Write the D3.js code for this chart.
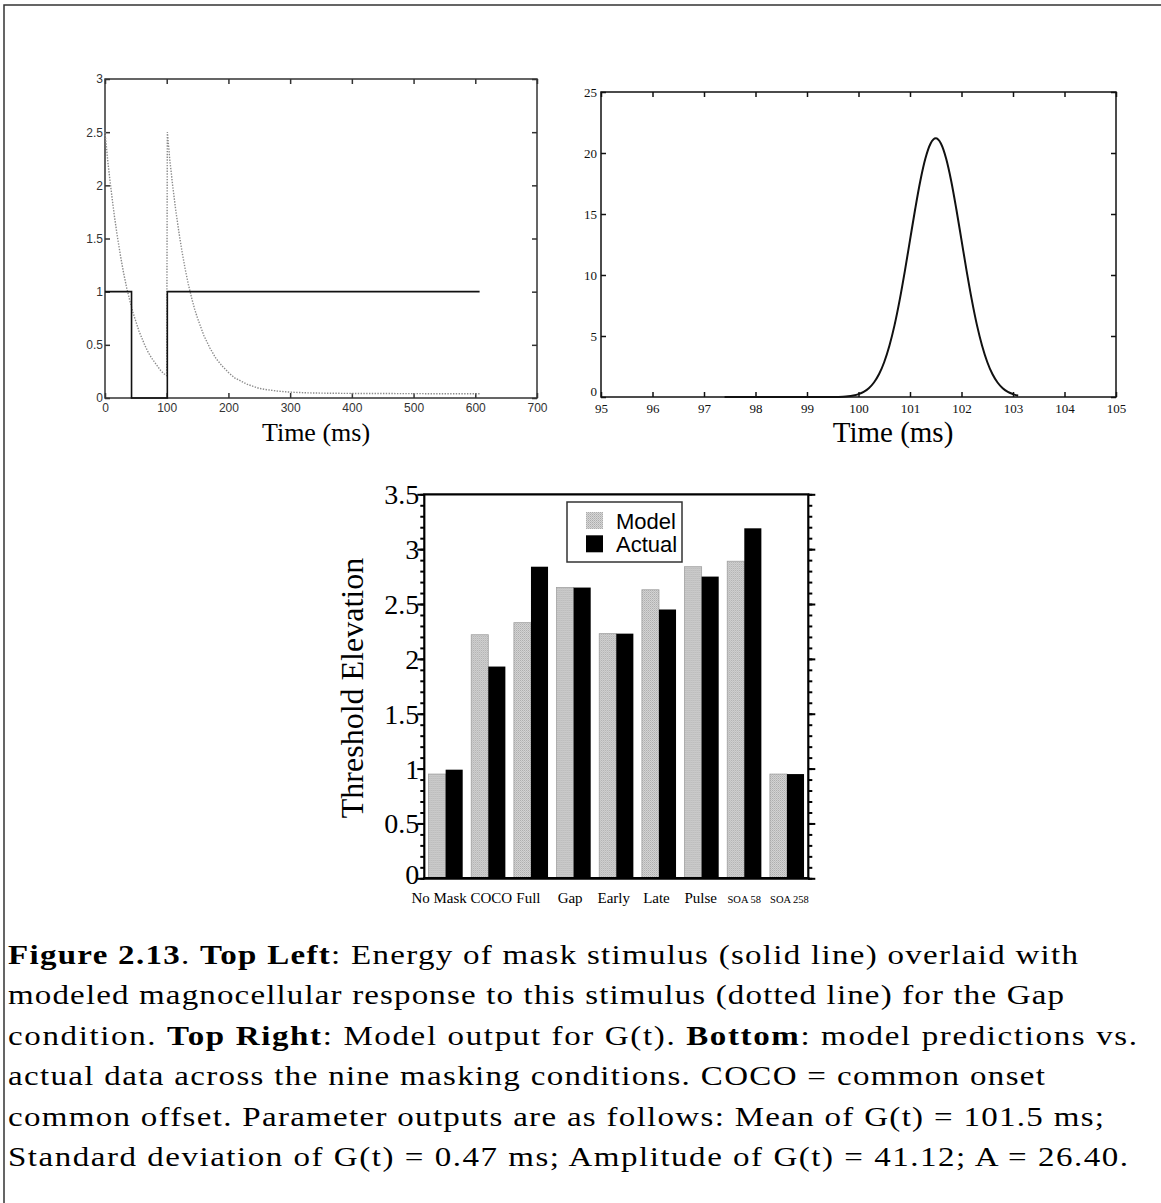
<!DOCTYPE html>
<html>
<head>
<meta charset="utf-8">
<script src="https://cdn.jsdelivr.net/npm/d3@7"></script>
<style>
  body { margin: 0; background: #fff; }
  svg { display: block; }
  .caption { font-family: "Liberation Serif", "Times New Roman", serif; font-size: 27.5px; white-space: pre; }
</style>
</head>
<body>
<div class="figure"></div>
<script>
// ---- top left: mask energy (solid) and magno response (dotted) ----
var maskTime   = [0, 43, 43, 101, 101, 607];
var maskEnergy = [1, 1, 0, 0, 1, 1];
var magnoTime = [0, 5, 10, 15, 20, 25, 30, 35, 40, 45, 50, 55, 60, 65, 70, 75, 80, 85, 90, 95, 100,
                 101, 105, 110, 115, 120, 125, 130, 135, 140, 145, 150, 160, 170, 180, 190, 200,
                 210, 220, 230, 240, 250, 260, 280, 300, 330, 360, 400, 450, 500, 550, 607];
var magnoResp = [2.5, 2.2, 1.95, 1.72, 1.52, 1.34, 1.18, 1.04, 0.92, 0.81, 0.72, 0.63, 0.56, 0.49, 0.43, 0.38, 0.34, 0.30, 0.26, 0.23, 0.21,
                 2.5, 2.24, 1.98, 1.75, 1.55, 1.37, 1.21, 1.07, 0.95, 0.84, 0.75, 0.59, 0.47, 0.37, 0.30, 0.24,
                 0.19, 0.16, 0.13, 0.11, 0.09, 0.08, 0.065, 0.055, 0.048, 0.045, 0.043, 0.042, 0.041, 0.04, 0.04];
var tlXTicks = [0, 100, 200, 300, 400, 500, 600, 700];
var tlYTicks = [0, 0.5, 1, 1.5, 2, 2.5, 3];

// ---- top right: model output G(t) ----
var gTime  = [97.4, 99.0, 99.5, 99.7, 99.8, 99.9, 100.0, 100.1, 100.2, 100.3, 100.4, 100.5, 100.6, 100.7, 100.8, 100.9,
              101.0, 101.1, 101.2, 101.3, 101.4, 101.5, 101.6, 101.7, 101.8, 101.9, 102.0, 102.1, 102.2, 102.3,
              102.4, 102.5, 102.6, 102.7, 102.8, 102.9, 103.0, 103.1];
var gValue = [0, 0, 0.01, 0.03, 0.06, 0.13, 0.24, 0.42, 0.72, 1.19, 1.88, 2.87, 4.2, 5.89, 7.96, 10.32,
              12.86, 15.39, 17.71, 19.57, 20.78, 21.2, 20.78, 19.57, 17.71, 15.39, 12.86, 10.32, 7.96, 5.89,
              4.2, 2.87, 1.88, 1.19, 0.72, 0.42, 0.24, 0.1];
var trXTicks = [95, 96, 97, 98, 99, 100, 101, 102, 103, 104, 105];
var trYTicks = [0, 5, 10, 15, 20, 25];

// ---- bottom: threshold elevation ----
var conditions   = ["No Mask", "COCO", "Full", "Gap", "Early", "Late", "Pulse", "SOA 58", "SOA 258"];
var modelValues  = [0.95, 2.22, 2.33, 2.65, 2.23, 2.63, 2.84, 2.89, 0.95];
var actualValues = [0.99, 1.93, 2.84, 2.65, 2.23, 2.45, 2.75, 3.19, 0.95];
var seriesNames  = ["Model", "Actual"];
var bYTicks = [0, 0.5, 1, 1.5, 2, 2.5, 3, 3.5];

var captionLines = [
  [["Figure 2.13", 1], [". ", 0], ["Top Left", 1], [": Energy of mask stimulus (solid line) overlaid with", 0]],
  [["modeled magnocellular response to this stimulus (dotted line) for the Gap", 0]],
  [["condition. ", 0], ["Top Right", 1], [": Model output for G(t). ", 0], ["Bottom", 1], [": model predictions vs.", 0]],
  [["actual data across the nine masking conditions. COCO = common onset", 0]],
  [["common offset. Parameter outputs are as follows: Mean of G(t) = 101.5 ms;", 0]],
  [["Standard deviation of G(t) = 0.47 ms; Amplitude of G(t) = 41.12; A = 26.40.", 0]]
];
var captionEnds = [1078, 1064, 1137, 1045, 1104, 1128];

var width = 1161, height = 1203;

var svg = d3.select(".figure")
  .append("svg")
    .attr("width", width)
    .attr("height", height);

// page frame (top and left edge)
svg.append("path")
  .attr("d", "M4," + height + "V5H" + width)
  .attr("fill", "none")
  .attr("stroke", "#333")
  .attr("stroke-width", 1.5);

// helper: boxed plot with inward ticks on all four sides
function framedAxes(g, x, y, xt, yt, font, size, color) {
  var x0 = x.range()[0], x1 = x.range()[1], y0 = y.range()[0], y1 = y.range()[1];
  g.append("rect")
    .attr("x", x0).attr("y", y1)
    .attr("width", x1 - x0).attr("height", y0 - y1)
    .attr("fill", "none").attr("stroke", color).attr("stroke-width", 1.5);

  var bottom = g.append("g").attr("transform", "translate(0," + y0 + ")")
    .call(d3.axisBottom(x).tickValues(xt).tickSize(-5).tickPadding(5).tickFormat(function(d){ return d; }));
  var top = g.append("g").attr("transform", "translate(0," + y1 + ")")
    .call(d3.axisTop(x).tickValues(xt).tickSize(-5).tickFormat(""));
  var left = g.append("g").attr("transform", "translate(" + x0 + ",0)")
    .call(d3.axisLeft(y).tickValues(yt).tickSize(-5).tickPadding(2).tickFormat(function(d){ return d; }));
  var right = g.append("g").attr("transform", "translate(" + x1 + ",0)")
    .call(d3.axisRight(y).tickValues(yt).tickSize(-5).tickFormat(""));

  [bottom, top, left, right].forEach(function(a) {
    a.select(".domain").remove();
    a.selectAll(".tick line").attr("stroke", color).attr("stroke-width", 1.5);
    a.selectAll("text")
      .attr("font-family", font)
      .attr("font-size", size)
      .attr("fill", color);
  });
  return { bottom: bottom, left: left };
}

// ================= top left =================
var tl = svg.append("g");
var xTL = d3.scaleLinear().domain([0, 700]).range([105, 537]);
var yTL = d3.scaleLinear().domain([0, 3]).range([398, 79]);
framedAxes(tl, xTL, yTL, tlXTicks, tlYTicks, "Liberation Sans, Arial, sans-serif", "12px", "#333");

tl.append("path")
  .datum(magnoTime.map(function(t, i){ return [t, magnoResp[i]]; }))
  .attr("fill", "none")
  .attr("stroke", "#8a8a8a")
  .attr("stroke-width", 1.4)
  .attr("stroke-dasharray", "1.4,1.4")
  .attr("d", d3.line().x(function(d){ return xTL(d[0]); }).y(function(d){ return yTL(d[1]); }));

tl.append("path")
  .datum(maskTime.map(function(t, i){ return [t, maskEnergy[i]]; }))
  .attr("fill", "none")
  .attr("stroke", "#111")
  .attr("stroke-width", 1.6)
  .attr("d", d3.line().x(function(d){ return xTL(d[0]); }).y(function(d){ return yTL(d[1]); }));

tl.append("text")
  .attr("x", 316).attr("y", 441)
  .attr("text-anchor", "middle")
  .attr("font-family", "Liberation Serif, Times New Roman, serif")
  .attr("font-size", "26px")
  .text("Time (ms)");

// ================= top right =================
var tr = svg.append("g");
var xTR = d3.scaleLinear().domain([95, 105]).range([601, 1116]);
var yTR = d3.scaleLinear().domain([0, 25]).range([397, 92]);
var trAx = framedAxes(tr, xTR, yTR, trXTicks, trYTicks, "Liberation Serif, Times New Roman, serif", "13px", "#111");
trAx.left.selectAll(".tick text").attr("x", -4);
trAx.left.selectAll(".tick text").filter(function(d){ return d === 0; }).attr("dy", "-0.1em");
trAx.bottom.selectAll(".tick text").attr("dy", "0.85em");

tr.append("path")
  .datum(gTime.map(function(t, i){ return [t, gValue[i]]; }))
  .attr("fill", "none")
  .attr("stroke", "#111")
  .attr("stroke-width", 2)
  .attr("d", d3.line().curve(d3.curveMonotoneX)
    .x(function(d){ return xTR(d[0]); }).y(function(d){ return yTR(d[1]); }));

tr.append("text")
  .attr("x", 893).attr("y", 442)
  .attr("text-anchor", "middle")
  .attr("font-family", "Liberation Serif, Times New Roman, serif")
  .attr("font-size", "29px")
  .text("Time (ms)");

// ================= bottom bars =================
var bt = svg.append("g");
var xB = d3.scaleBand().domain(conditions).range([424.3, 808.3]).paddingInner(0.2).paddingOuter(0.1);
var xSub = d3.scaleBand().domain(seriesNames).range([0, xB.bandwidth()]);
var yB = d3.scaleLinear().domain([0, 3.5]).range([878.3, 494.3]);

var defs = svg.append("defs");
var pat = defs.append("pattern")
  .attr("id", "hatch")
  .attr("patternUnits", "userSpaceOnUse")
  .attr("width", 2).attr("height", 2);
pat.append("rect").attr("width", 2).attr("height", 2).attr("fill", "#d6d6d6");
pat.append("rect").attr("width", 1).attr("height", 1).attr("fill", "#ababab");
pat.append("rect").attr("x", 1).attr("y", 1).attr("width", 1).attr("height", 1).attr("fill", "#bdbdbd");

var groups = bt.selectAll(".cond")
  .data(conditions)
  .enter().append("g")
    .attr("class", "cond")
    .attr("transform", function(d){ return "translate(" + xB(d) + ",0)"; });

groups.append("rect")
  .attr("x", xSub("Model"))
  .attr("y", function(d, i){ return yB(modelValues[i]); })
  .attr("width", xSub.bandwidth())
  .attr("height", function(d, i){ return yB(0) - yB(modelValues[i]); })
  .attr("fill", "url(#hatch)")
  .attr("stroke", "#a0a0a0")
  .attr("stroke-width", 0.8);

groups.append("rect")
  .attr("x", xSub("Actual"))
  .attr("y", function(d, i){ return yB(actualValues[i]); })
  .attr("width", xSub.bandwidth())
  .attr("height", function(d, i){ return yB(0) - yB(actualValues[i]); })
  .attr("fill", "#000");

// axes: major + minor ticks outward on left and right
var minorTicks = d3.range(0, 3.51, 0.1);
var leftMinor = bt.append("g").attr("transform", "translate(424.3,0)")
  .call(d3.axisLeft(yB).tickValues(minorTicks).tickSize(4).tickFormat(""));
var leftMajor = bt.append("g").attr("transform", "translate(424.3,0)")
  .call(d3.axisLeft(yB).tickValues(bYTicks).tickSize(7).tickPadding(-2).tickFormat(function(d){ return d; }));
var rightMinor = bt.append("g").attr("transform", "translate(808.3,0)")
  .call(d3.axisRight(yB).tickValues(minorTicks).tickSize(4).tickFormat(""));
var rightMajor = bt.append("g").attr("transform", "translate(808.3,0)")
  .call(d3.axisRight(yB).tickValues(bYTicks).tickSize(7).tickFormat(""));

[leftMinor, leftMajor, rightMinor, rightMajor].forEach(function(a) {
  a.select(".domain").remove();
  a.selectAll(".tick line").attr("stroke", "#000").attr("stroke-width", 2);
});
leftMajor.selectAll("text")
  .attr("font-family", "Liberation Serif, Times New Roman, serif")
  .attr("font-size", "28px")
  .attr("fill", "#000")
  .attr("dy", "0.34em");
// lift the "0" a touch so it clears the first category label
leftMajor.selectAll(".tick text").filter(function(d){ return d === 0; }).attr("dy", "0.2em");

// frame lines
bt.append("path")
  .attr("d", "M424.3," + yB(0) + "V" + yB(3.5) + "H808.3V" + yB(0))
  .attr("fill", "none").attr("stroke", "#000").attr("stroke-width", 2.2);
bt.append("line")
  .attr("x1", 423).attr("x2", 809.5)
  .attr("y1", yB(0)).attr("y2", yB(0))
  .attr("stroke", "#000").attr("stroke-width", 2.8);

// category labels (small nudges keep the wide ones apart)
var labelNudge = [-6.5, 3, -2.5, -3.5, -2.5, -2.5, -1, 0, 2.5];
bt.selectAll(".clabel")
  .data(conditions)
  .enter().append("text")
    .attr("class", "clabel")
    .attr("x", function(d, i){ return xB(d) + xB.bandwidth() / 2 + labelNudge[i]; })
    .attr("y", 903)
    .attr("text-anchor", "middle")
    .attr("font-family", "Liberation Serif, Times New Roman, serif")
    .attr("font-size", function(d){ return d.indexOf("SOA") === 0 ? "10.5px" : "15px"; })
    .text(function(d){ return d; });

bt.append("text")
  .attr("transform", "translate(363,688) rotate(-90)")
  .attr("text-anchor", "middle")
  .attr("font-family", "Liberation Serif, Times New Roman, serif")
  .attr("font-size", "32px")
  .text("Threshold Elevation");

// legend
var lg = bt.append("g").attr("transform", "translate(567,502)");
lg.append("rect")
  .attr("width", 115).attr("height", 60)
  .attr("fill", "#fff").attr("stroke", "#333").attr("stroke-width", 1.5);
var lgItems = lg.selectAll(".item")
  .data(seriesNames)
  .enter().append("g")
    .attr("class", "item")
    .attr("transform", function(d, i){ return "translate(19," + (10 + i * 23.3) + ")"; });
lgItems.append("rect")
  .attr("width", 17).attr("height", 17)
  .attr("fill", function(d){ return d === "Model" ? "url(#hatch)" : "#000"; });
lgItems.append("text")
  .attr("x", 30).attr("y", 16.5)
  .attr("font-family", "Liberation Sans, Arial, sans-serif")
  .attr("font-size", "22px")
  .text(function(d){ return d; });

// ================= caption =================
var capScale = 1.2;
var cap = svg.append("g")
  .attr("transform", "translate(8,0) scale(" + capScale + ",1)");
captionLines.forEach(function(parts, i) {
  var t = cap.append("text")
    .attr("class", "caption")
    .attr("x", 0)
    .attr("y", 964 + i * 40.5)
    .attr("textLength", (captionEnds[i] - 8) / capScale)
    .attr("lengthAdjust", "spacing");
  parts.forEach(function(p) {
    t.append("tspan")
      .attr("font-weight", p[1] ? "bold" : "normal")
      .text(p[0]);
  });
});
</script>
</body>
</html>
